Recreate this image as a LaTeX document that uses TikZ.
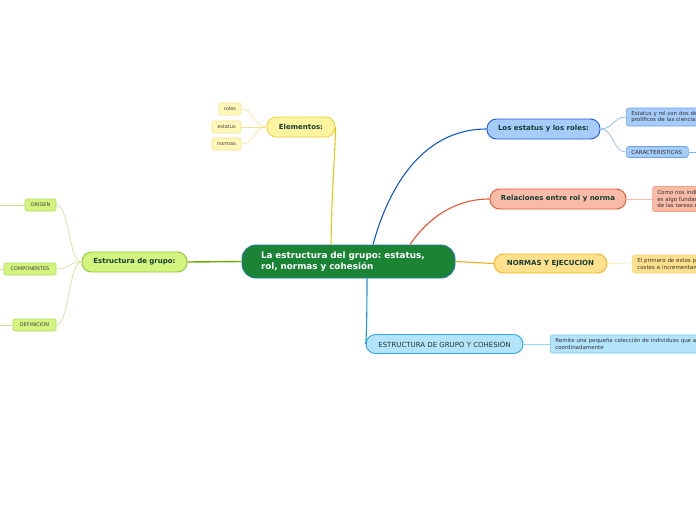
\documentclass[tikz,border=0pt]{standalone}
\usepackage{fontspec}
\setmainfont{DejaVu Sans}
\usepackage{tikz}
\usepackage{xcolor}
\frenchspacing

\definecolor{textgreen}{RGB}{20,60,50}
\definecolor{centerfill}{RGB}{26,132,52}
\definecolor{centerline}{RGB}{40,120,170}
\definecolor{yelfill}{RGB}{255,245,160}
\definecolor{yelline}{RGB}{235,210,60}
\definecolor{yellink}{RGB}{230,200,20}
\definecolor{yelpale}{RGB}{255,248,185}
\definecolor{yelthin}{RGB}{245,228,140}
\definecolor{grnfill}{RGB}{212,244,128}
\definecolor{grnline}{RGB}{140,200,50}
\definecolor{grnlink}{RGB}{110,170,0}
\definecolor{grnthin}{RGB}{200,225,150}
\definecolor{grnsub}{RGB}{170,220,90}
\definecolor{bluefill}{RGB}{166,204,250}
\definecolor{blueline}{RGB}{30,90,210}
\definecolor{bluelink}{RGB}{20,90,200}
\definecolor{bluesub}{RGB}{110,160,230}
\definecolor{bluethin}{RGB}{130,175,240}
\definecolor{salfill}{RGB}{248,187,167}
\definecolor{salline}{RGB}{235,85,45}
\definecolor{salsub}{RGB}{245,160,130}
\definecolor{salthin}{RGB}{250,190,175}
\definecolor{orfill}{RGB}{255,224,140}
\definecolor{orline}{RGB}{245,180,30}
\definecolor{orlink}{RGB}{245,170,30}
\definecolor{orsub}{RGB}{250,212,125}
\definecolor{orthin}{RGB}{255,225,160}
\definecolor{cyfill}{RGB}{180,228,250}
\definecolor{cyline}{RGB}{40,170,235}
\definecolor{cylink}{RGB}{25,150,225}
\definecolor{cysub}{RGB}{120,200,240}
\definecolor{cythin}{RGB}{150,215,245}

\begin{document}
\begin{tikzpicture}[x=1pt, y=-1pt,
    main/.style={draw, rounded corners=9.5pt, line width=0.9pt, inner sep=0pt, minimum height=20pt,
        text=textgreen, font=\fontsize{7}{8}\selectfont\bfseries},
    leaf/.style={draw, rounded corners=2pt, line width=0.6pt, inner sep=0pt, minimum height=12pt,
        text=black!75, font=\fontsize{5}{6}\selectfont},
    note/.style={draw, rounded corners=2.5pt, line width=0.6pt, anchor=west, inner xsep=5pt, inner ysep=0pt,
        align=left, text=black!80, font=\fontsize{5.5}{6.6}\selectfont},
    link/.style={line width=1.1pt},
    twig/.style={line width=0.6pt}]
        \useasboundingbox (0,0) rectangle (696,520);
        \fill[white] (0,0) rectangle (696,520);
        \clip (0,0) rectangle (696,520);

        % Central topic
        \node[draw=centerline, fill=centerfill, rounded corners=14pt, line width=0.9pt,
            minimum height=33pt, text width=175pt, inner xsep=19pt, inner ysep=0pt, align=left,
            text=white, font=\fontsize{8.8}{11}\selectfont\bfseries] (center) at (348.5,261.5)
            {La estructura del grupo: estatus,\\rol, normas y cohesión};

        % Elementos (yellow)
        \node[main, fill=yelfill, draw=yelline, minimum width=68pt] (elem) at (301,127) {Elementos:};
        \node[leaf, fill=yelpale, draw=yelthin, minimum width=22pt] (roles) at (230,109) {roles};
        \node[leaf, fill=yelpale, draw=yelthin, minimum width=29pt] (estatus) at (226.5,127) {estatus};
        \node[leaf, fill=yelpale, draw=yelthin, minimum width=29pt] (normas) at (226.5,144) {normas};
        \draw[link, yellink] ([xshift=-17.5pt]center.north) .. controls (332,180) and (336,140) .. (elem.east);
        \foreach \k in {roles, estatus, normas}
            \draw[twig, yelthin] (elem.west) .. controls +(-13,0) and +(13,0) .. (\k.east);

        % Estructura de grupo (green)
        \node[main, fill=grnfill, draw=grnline, minimum width=105pt] (estr) at (134.5,262) {Estructura de grupo:};
        \node[leaf, fill=grnfill, draw=grnsub, minimum width=31pt] (origen) at (40.5,205) {ORIGEN};
        \node[leaf, fill=grnfill, draw=grnsub, minimum width=52pt] (componentes) at (30,269) {COMPONENTES};
        \node[leaf, fill=grnfill, draw=grnsub, minimum width=43pt] (definicion) at (34.5,325) {DEFINICION};
        \coordinate (origentail) at (-5,205);
        \coordinate (componentestail) at (-5,269);
        \coordinate (definiciontail) at (-5,325);
        \draw[link, grnlink, line width=1.4pt] (center.west) -- (estr.east);
        \foreach \k in {origen, componentes, definicion} {
            \draw[twig, grnthin] (estr.west) .. controls +(-13,0) and +(13,0) .. (\k.east);
            \draw[twig, grnthin] (\k.west) -- (\k tail);
        }

        % Los estatus y los roles (blue)
        \node[main, fill=bluefill, draw=blueline, minimum width=113pt] (roles2) at (543.5,129) {Los estatus y los roles:};
        \node[note, fill=bluefill, draw=bluesub, minimum height=18pt, text width=110pt] (rolnote) at (626,117)
            {Estatus y rol son dos de\\prolíficos de las ciencias};
        \node[note, fill=bluefill, draw=bluesub, minimum height=11pt, text width=52pt] (carac) at (626,152) {CARACTERISTICAS};
        \coordinate (caractail) at (705,152);
        \draw[link, bluelink] ([xshift=24.5pt]center.north) .. controls (392,175) and (430,129) .. (roles2.west);
        \draw[twig, bluethin] (roles2.east) .. controls +(13,0) and +(-13,0) .. (rolnote.west);
        \draw[twig, bluethin] (roles2.east) .. controls +(13,0) and +(-13,0) .. (carac.west);
        \draw[twig, bluethin] (carac.east) -- (caractail);

        % Relaciones entre rol y norma (salmon)
        \node[main, fill=salfill, draw=salline, minimum width=136pt] (rel) at (558,199) {Relaciones entre rol y norma};
        \node[note, fill=salfill, draw=salsub, minimum height=25pt, text width=90pt] (relnote) at (652,199)
            {Como nos indica\\es algo fundamental\\de las tareas en};
        \draw[link, salline] ([xshift=61.5pt]center.north) .. controls (428,218) and (455,199) .. (rel.west);
        \draw[twig, salthin] (rel.east) -- (relnote.west);

        % Normas y ejecucion (orange)
        \node[main, fill=orfill, draw=orline, minimum width=113pt, minimum height=19pt] (norm) at (550.5,263.5) {NORMAS Y EJECUCION};
        \node[note, fill=orfill, draw=orsub, minimum height=18pt, text width=110pt] (normnote) at (632,264)
            {El primero de estos puntos\\costes e incrementan};
        \draw[link, orlink] (center.east) -- (norm.west);
        \draw[twig, orthin] (norm.east) -- (normnote.west);

        % Estructura de grupo y cohesion (cyan)
        \node[main, fill=cyfill, draw=cyline, minimum width=157pt, minimum height=19pt,
            font=\fontsize{7}{8}\selectfont] (coh) at (444.5,344) {ESTRUCTURA DE GRUPO Y COHESIÓN};
        \node[note, fill=cyfill, draw=cysub, minimum height=18pt, text width=190pt] (cohnote) at (550,344)
            {Remite una pequeña colección de individuos que actúan\\coordinadamente};
        \draw[link, cylink] ([xshift=18.5pt]center.south) .. controls (367,325) and (366,344) .. (coh.west);
        \draw[twig, cythin] (coh.east) -- (cohnote.west);
\end{tikzpicture}
\end{document}
